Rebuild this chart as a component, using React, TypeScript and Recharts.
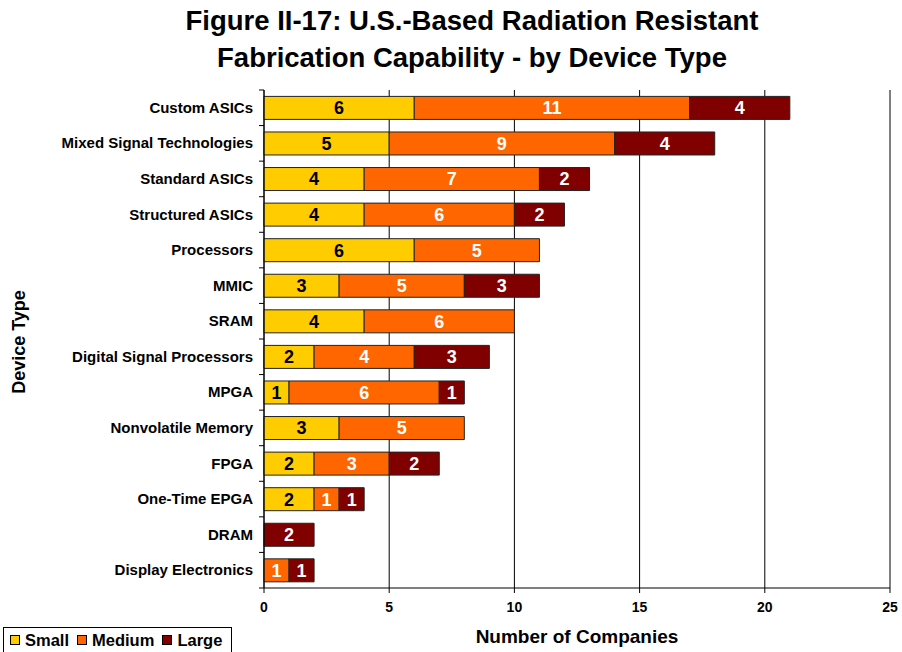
import React from 'react';
import { BarChart, Bar, XAxis, YAxis, CartesianGrid, LabelList } from 'recharts';

const categories = [
  'Custom ASICs',
  'Mixed Signal Technologies',
  'Standard ASICs',
  'Structured ASICs',
  'Processors',
  'MMIC',
  'SRAM',
  'Digital Signal Processors',
  'MPGA',
  'Nonvolatile Memory',
  'FPGA',
  'One-Time EPGA',
  'DRAM',
  'Display Electronics',
];
const small = [6, 5, 4, 4, 6, 3, 4, 2, 1, 3, 2, 2, null, null];
const medium = [11, 9, 7, 6, 5, 5, 6, 4, 6, 5, 3, 1, null, 1];
const large = [4, 4, 2, 2, null, 3, null, 3, 1, null, 2, 1, 2, 1];
const xTicks = [0, 5, 10, 15, 20, 25];

const seriesInfo = [
  { key: 'small', name: 'Small', color: '#FFCC00', text: '#000000' },
  { key: 'medium', name: 'Medium', color: '#FF6600', text: '#FFFFFF' },
  { key: 'large', name: 'Large', color: '#800000', text: '#FFFFFF' },
];

const data = categories.map((c, i) => ({ name: c, small: small[i], medium: medium[i], large: large[i] }));

const FONT = 'Arial, "Liberation Sans", sans-serif';
const AXIS_X = 264;

const YTick = (props: any) => {
  const { y, payload, index, visibleTicksCount } = props;
  const half = 498 / 14 / 2;
  return (
    <g>
      <line x1={AXIS_X - 5} x2={AXIS_X} y1={y - half} y2={y - half} stroke="#000" />
      {index === visibleTicksCount - 1 && (
        <line x1={AXIS_X - 5} x2={AXIS_X} y1={y + half} y2={y + half} stroke="#000" />
      )}
      <text x={AXIS_X - 11} y={y} dy={5} textAnchor="end" fontFamily={FONT} fontWeight="bold" fontSize={15} fill="#000">
        {payload.value}
      </text>
    </g>
  );
};

const LegendBox = () => (
  <div
    style={{
      position: 'absolute',
      left: 3,
      top: 627,
      width: 229,
      height: 26,
      border: '1px solid #000',
      display: 'flex',
      alignItems: 'center',
      padding: '0 0 0 6px',
      boxSizing: 'border-box',
      fontFamily: FONT,
      fontWeight: 'bold',
      fontSize: 16.5,
      background: '#fff',
    }}
  >
    {seriesInfo.map((s) => (
      <span key={s.key} style={{ display: 'flex', alignItems: 'center', marginRight: 8 }}>
        <span
          style={{
            display: 'inline-block',
            width: 8,
            height: 8,
            background: s.color,
            border: '1px solid #000',
            marginRight: 5,
          }}
        />
        {s.name}
      </span>
    ))}
  </div>
);

export default function App() {
  return (
    <div style={{ position: 'absolute', left: 0, top: 0, width: 902, height: 652, background: '#fff', overflow: 'hidden' }}>
      <div
        style={{
          position: 'absolute',
          left: 0,
          top: 2,
          width: 944,
          textAlign: 'center',
          fontFamily: FONT,
          fontWeight: 'bold',
          fontSize: 27.5,
          lineHeight: '37px',
          color: '#000',
        }}
      >
        Figure II-17: U.S.-Based Radiation Resistant
        <br />
        Fabrication Capability - by Device Type
      </div>
      <div
        style={{
          position: 'absolute',
          left: 19,
          top: 342,
          transform: 'translate(-50%, -50%) rotate(-90deg)',
          fontFamily: FONT,
          fontWeight: 'bold',
          fontSize: 18,
          whiteSpace: 'nowrap',
        }}
      >
        Device Type
      </div>
      <BarChart
        width={902}
        height={652}
        data={data}
        layout="vertical"
        margin={{ top: 90, right: 12, bottom: 34, left: 0 }}
        barCategoryGap="18%"
      >
        <CartesianGrid horizontal={false} vertical={true} stroke="#000" strokeWidth={1} />
        <XAxis
          type="number"
          domain={[0, 25]}
          ticks={xTicks}
          interval={0}
          axisLine={{ stroke: '#000' }}
          tickLine={{ stroke: '#000' }}
          tickSize={5}
          height={30}
          tick={{ fontFamily: FONT, fontWeight: 'bold', fontSize: 14, fill: '#000', dy: 7 }}
        />
        <YAxis
          type="category"
          dataKey="name"
          width={264}
          interval={0}
          axisLine={{ stroke: '#000' }}
          tickLine={false}
          tick={<YTick />}
        />
        {seriesInfo.map((s) => (
          <Bar
            key={s.key}
            dataKey={s.key}
            name={s.name}
            stackId="a"
            fill={s.color}
            stroke="#222"
            strokeWidth={1}
            isAnimationActive={false}
          >
            <LabelList
              dataKey={s.key}
              position="center"
              fill={s.text}
              fontFamily={FONT}
              fontWeight="bold"
              fontSize={18}
            />
          </Bar>
        ))}
      </BarChart>
      <LegendBox />
      <div
        style={{
          position: 'absolute',
          left: 577,
          top: 637,
          transform: 'translate(-50%, -50%)',
          fontFamily: FONT,
          fontWeight: 'bold',
          fontSize: 19,
          whiteSpace: 'nowrap',
        }}
      >
        Number of Companies
      </div>
    </div>
  );
}
